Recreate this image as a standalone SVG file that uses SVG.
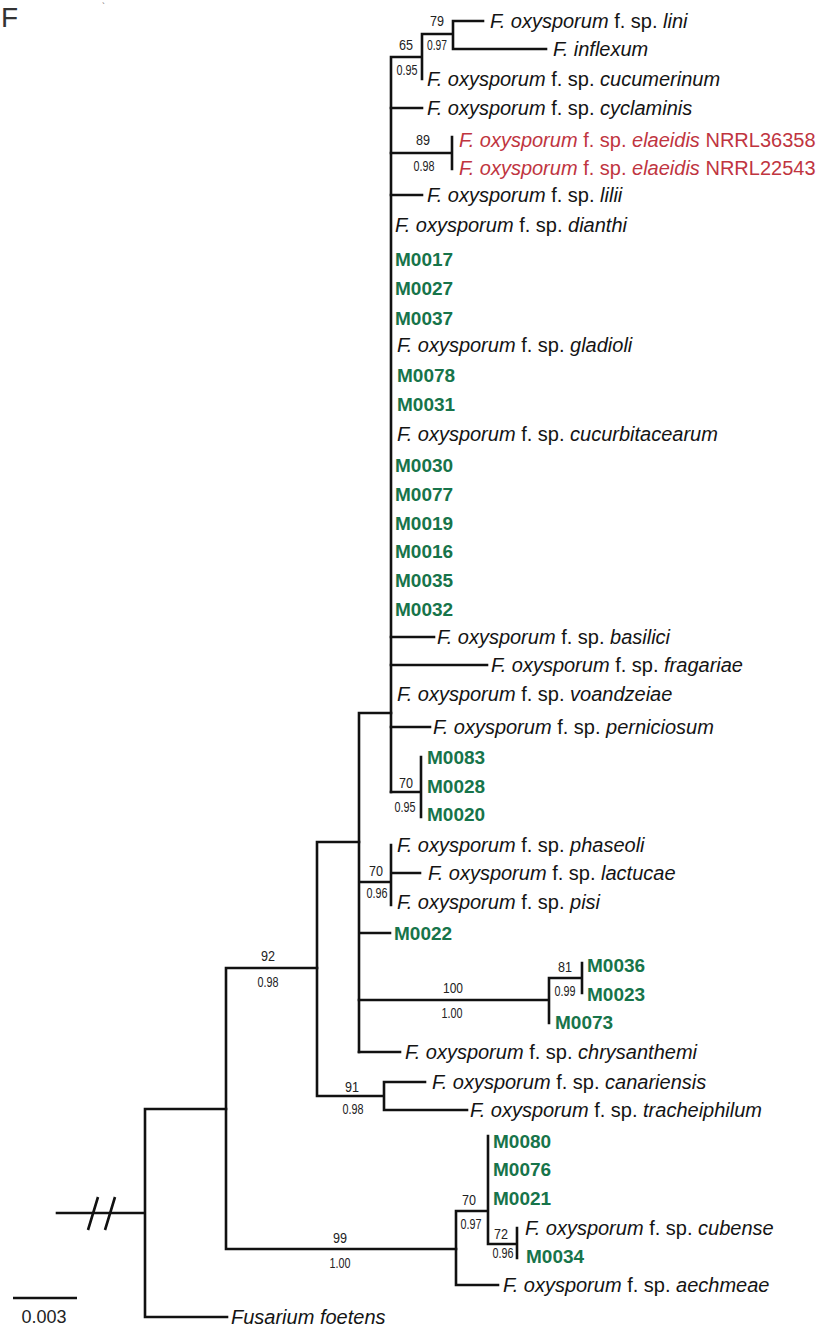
<svg xmlns="http://www.w3.org/2000/svg" width="821" height="1327" viewBox="0 0 821 1327">
<style>
.t{font-family:"Liberation Sans",Arial,sans-serif;font-size:20px;fill:#141414}
.i{font-style:italic}
.m{font-family:"Liberation Sans",Arial,sans-serif;font-size:19px;font-weight:bold;fill:#17744a}
.r{fill:#c0353f}
.s{font-family:"Liberation Sans",Arial,sans-serif;font-size:14px;fill:#222;text-anchor:middle}
.ln{stroke:#111;stroke-width:2.6;fill:none;stroke-linecap:square}
</style>
<rect width="821" height="1327" fill="#fff"/>
<text x="1" y="27" font-family="Liberation Sans, Arial, sans-serif" font-size="28" fill="#333">F</text>
<text x="102" y="9" font-family="Liberation Sans, Arial, sans-serif" font-size="9" fill="#666">`</text>
<g id="connectors" class="ln">
<path d="M145 1109 V1317 M57 1213 H145 M145 1109 H226 M145 1317 H227"/>
<path d="M98 1197 L88 1230 M115 1197 L105 1230" stroke-linecap="butt"/>
<path d="M226 968 V1249 M226 968 H317 M226 1249 H456"/>
<path d="M317 842 V1096 M317 842 H359 M317 1096 H384 M384 1082 V1110 M384 1082 H425 M384 1110 H467"/>
<path d="M359 713 V1052 M359 713 H391 M359 882 H391 M391 845 V905 M391 873 H420 M359 933 H390"/>
<path d="M359 1000 H549 M549 978 V1023 M549 978 H582 M582 963 V993 M359 1052 H400"/>
<path d="M391 57 V792 M391 57 H422 M422 34 V79 M422 34 H453 M453 21 V49 M453 21 H483 M453 49 H546"/>
<path d="M391 108 H422 M391 153 H452 M452 137 V169 M391 195 H422"/>
<path d="M391 637 H434 M391 665 H487 M391 727 H430 M391 792 H421 M421 757 V817"/>
<path d="M456 1211 V1285 M456 1285 H498 M456 1211 H488 M488 1136 V1244 M488 1244 H517 M517 1228 V1258"/>
<path d="M13 1298 H77" stroke-linecap="butt"/>
</g>
<g id="scale"><text x="44" y="1323" font-family="Liberation Sans, Arial, sans-serif" font-size="18" fill="#222" text-anchor="middle">0.003</text></g>
<g id="support">
<text class="s" x="437" y="26" textLength="14" lengthAdjust="spacingAndGlyphs">79</text>
<text class="s" x="437" y="50" textLength="20" lengthAdjust="spacingAndGlyphs">0.97</text>
<text class="s" x="406" y="50" textLength="14" lengthAdjust="spacingAndGlyphs">65</text>
<text class="s" x="407" y="75" textLength="21" lengthAdjust="spacingAndGlyphs">0.95</text>
<text class="s" x="423" y="145" textLength="14" lengthAdjust="spacingAndGlyphs">89</text>
<text class="s" x="424" y="171" textLength="21" lengthAdjust="spacingAndGlyphs">0.98</text>
<text class="s" x="406" y="788" textLength="14" lengthAdjust="spacingAndGlyphs">70</text>
<text class="s" x="405" y="812" textLength="21" lengthAdjust="spacingAndGlyphs">0.95</text>
<text class="s" x="376" y="876" textLength="14" lengthAdjust="spacingAndGlyphs">70</text>
<text class="s" x="377" y="898" textLength="21" lengthAdjust="spacingAndGlyphs">0.96</text>
<text class="s" x="453" y="993" textLength="20" lengthAdjust="spacingAndGlyphs">100</text>
<text class="s" x="452" y="1018" textLength="21" lengthAdjust="spacingAndGlyphs">1.00</text>
<text class="s" x="565" y="972" textLength="14" lengthAdjust="spacingAndGlyphs">81</text>
<text class="s" x="565" y="996" textLength="21" lengthAdjust="spacingAndGlyphs">0.99</text>
<text class="s" x="268" y="961" textLength="14" lengthAdjust="spacingAndGlyphs">92</text>
<text class="s" x="268" y="987" textLength="21" lengthAdjust="spacingAndGlyphs">0.98</text>
<text class="s" x="352" y="1092" textLength="14" lengthAdjust="spacingAndGlyphs">91</text>
<text class="s" x="353" y="1114" textLength="21" lengthAdjust="spacingAndGlyphs">0.98</text>
<text class="s" x="340" y="1243" textLength="14" lengthAdjust="spacingAndGlyphs">99</text>
<text class="s" x="340" y="1268" textLength="21" lengthAdjust="spacingAndGlyphs">1.00</text>
<text class="s" x="469" y="1205" textLength="14" lengthAdjust="spacingAndGlyphs">70</text>
<text class="s" x="471" y="1229" textLength="21" lengthAdjust="spacingAndGlyphs">0.97</text>
<text class="s" x="501" y="1239" textLength="14" lengthAdjust="spacingAndGlyphs">72</text>
<text class="s" x="503" y="1258" textLength="21" lengthAdjust="spacingAndGlyphs">0.96</text>
</g>
<g id="leaf-lini"><text class="t" x="490" y="28"><tspan class="i">F. oxysporum</tspan> f. sp. <tspan class="i">lini</tspan></text></g>
<g id="leaf-inflexum"><text class="t i" x="553" y="56">F. inflexum</text></g>
<g id="leaf-cucumerinum"><text class="t" x="427" y="86"><tspan class="i">F. oxysporum</tspan> f. sp. <tspan class="i">cucumerinum</tspan></text></g>
<g id="leaf-cyclaminis"><text class="t" x="427" y="115"><tspan class="i">F. oxysporum</tspan> f. sp. <tspan class="i">cyclaminis</tspan></text></g>
<g id="leaf-elaeidis-36358"><text class="t r" x="459" y="147"><tspan class="i">F. oxysporum</tspan> f. sp. <tspan class="i">elaeidis</tspan> NRRL36358</text></g>
<g id="leaf-elaeidis-22543"><text class="t r" x="459" y="175"><tspan class="i">F. oxysporum</tspan> f. sp. <tspan class="i">elaeidis</tspan> NRRL22543</text></g>
<g id="leaf-lilii"><text class="t" x="427" y="202"><tspan class="i">F. oxysporum</tspan> f. sp. <tspan class="i">lilii</tspan></text></g>
<g id="leaf-dianthi"><text class="t" x="395" y="232"><tspan class="i">F. oxysporum</tspan> f. sp. <tspan class="i">dianthi</tspan></text></g>
<g id="leaf-M0017"><text class="m" x="395" y="266">M0017</text></g>
<g id="leaf-M0027"><text class="m" x="395" y="295">M0027</text></g>
<g id="leaf-M0037"><text class="m" x="395" y="325">M0037</text></g>
<g id="leaf-gladioli"><text class="t" x="397" y="352"><tspan class="i">F. oxysporum</tspan> f. sp. <tspan class="i">gladioli</tspan></text></g>
<g id="leaf-M0078"><text class="m" x="397" y="382">M0078</text></g>
<g id="leaf-M0031"><text class="m" x="397" y="411">M0031</text></g>
<g id="leaf-cucurbitacearum"><text class="t" x="397" y="441"><tspan class="i">F. oxysporum</tspan> f. sp. <tspan class="i">cucurbitacearum</tspan></text></g>
<g id="leaf-M0030"><text class="m" x="395" y="472">M0030</text></g>
<g id="leaf-M0077"><text class="m" x="395" y="501">M0077</text></g>
<g id="leaf-M0019"><text class="m" x="395" y="530">M0019</text></g>
<g id="leaf-M0016"><text class="m" x="395" y="558">M0016</text></g>
<g id="leaf-M0035"><text class="m" x="395" y="587">M0035</text></g>
<g id="leaf-M0032"><text class="m" x="395" y="616">M0032</text></g>
<g id="leaf-basilici"><text class="t" x="437" y="644"><tspan class="i">F. oxysporum</tspan> f. sp. <tspan class="i">basilici</tspan></text></g>
<g id="leaf-fragariae"><text class="t" x="491" y="672"><tspan class="i">F. oxysporum</tspan> f. sp. <tspan class="i">fragariae</tspan></text></g>
<g id="leaf-voandzeiae"><text class="t" x="397" y="701"><tspan class="i">F. oxysporum</tspan> f. sp. <tspan class="i">voandzeiae</tspan></text></g>
<g id="leaf-perniciosum"><text class="t" x="433" y="734"><tspan class="i">F. oxysporum</tspan> f. sp. <tspan class="i">perniciosum</tspan></text></g>
<g id="leaf-M0083"><text class="m" x="427" y="764">M0083</text></g>
<g id="leaf-M0028"><text class="m" x="427" y="793">M0028</text></g>
<g id="leaf-M0020"><text class="m" x="427" y="821">M0020</text></g>
<g id="leaf-phaseoli"><text class="t" x="397" y="852"><tspan class="i">F. oxysporum</tspan> f. sp. <tspan class="i">phaseoli</tspan></text></g>
<g id="leaf-lactucae"><text class="t" x="428" y="880"><tspan class="i">F. oxysporum</tspan> f. sp. <tspan class="i">lactucae</tspan></text></g>
<g id="leaf-pisi"><text class="t" x="397" y="909"><tspan class="i">F. oxysporum</tspan> f. sp. <tspan class="i">pisi</tspan></text></g>
<g id="leaf-M0022"><text class="m" x="394" y="940">M0022</text></g>
<g id="leaf-M0036"><text class="m" x="587" y="972">M0036</text></g>
<g id="leaf-M0023"><text class="m" x="587" y="1001">M0023</text></g>
<g id="leaf-M0073"><text class="m" x="555" y="1029">M0073</text></g>
<g id="leaf-chrysanthemi"><text class="t" x="405" y="1059"><tspan class="i">F. oxysporum</tspan> f. sp. <tspan class="i">chrysanthemi</tspan></text></g>
<g id="leaf-canariensis"><text class="t" x="432" y="1089"><tspan class="i">F. oxysporum</tspan> f. sp. <tspan class="i">canariensis</tspan></text></g>
<g id="leaf-tracheiphilum"><text class="t" x="470" y="1117"><tspan class="i">F. oxysporum</tspan> f. sp. <tspan class="i">tracheiphilum</tspan></text></g>
<g id="leaf-M0080"><text class="m" x="493" y="1148">M0080</text></g>
<g id="leaf-M0076"><text class="m" x="493" y="1176">M0076</text></g>
<g id="leaf-M0021"><text class="m" x="493" y="1205">M0021</text></g>
<g id="leaf-cubense"><text class="t" x="525" y="1235"><tspan class="i">F. oxysporum</tspan> f. sp. <tspan class="i">cubense</tspan></text></g>
<g id="leaf-M0034"><text class="m" x="526" y="1263">M0034</text></g>
<g id="leaf-aechmeae"><text class="t" x="503" y="1292"><tspan class="i">F. oxysporum</tspan> f. sp. <tspan class="i">aechmeae</tspan></text></g>
<g id="leaf-foetens"><text class="t i" x="231" y="1324">Fusarium foetens</text></g>
</svg>
